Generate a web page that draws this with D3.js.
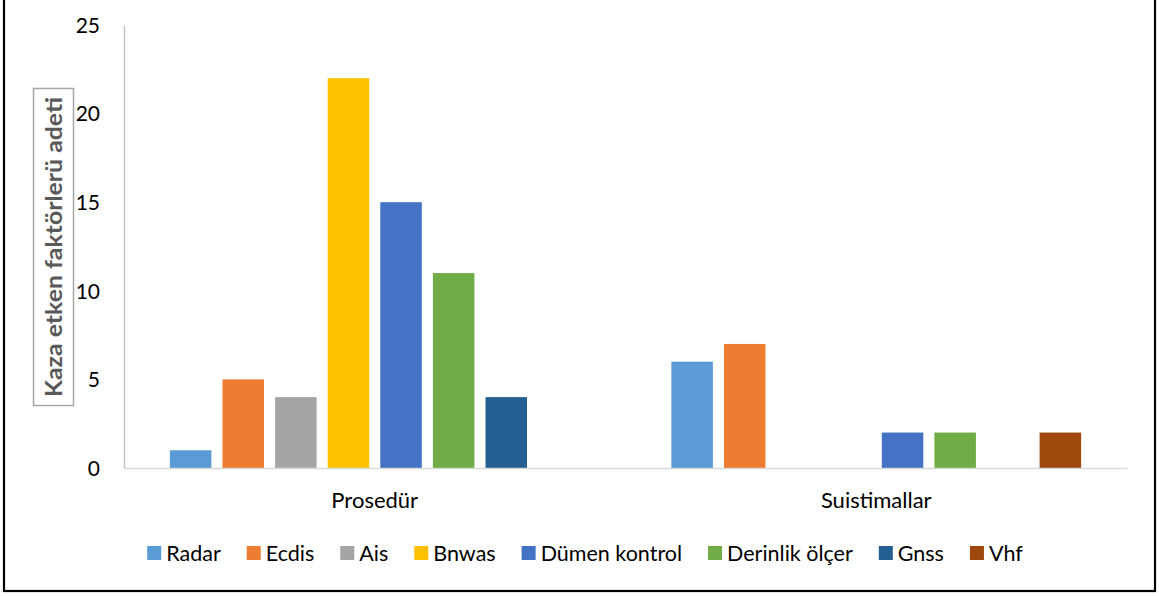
<!DOCTYPE html>
<html><head><meta charset="utf-8">
<script src="https://cdn.jsdelivr.net/npm/d3@7"></script>
<style>body{margin:0;background:#fff}svg{display:block}text{font-family:Lato,"Open Sans",sans-serif}</style>
</head><body>
<svg id="c" width="1159" height="596"></svg>
<script>
const categories = ["Prosedür", "Suistimallar"];
const series = ["Radar", "Ecdis", "Ais", "Bnwas", "Dümen kontrol", "Derinlik ölçer", "Gnss", "Vhf"];
const prosedurValues = [1, 5, 4, 22, 15, 11, 4, 0];
const suistimalValues = [6, 7, 0, 0, 2, 2, 0, 2];
const colors = ["#5B9BD5", "#ED7D31", "#A5A5A5", "#FFC000", "#4472C4", "#70AD47", "#255E91", "#9E480E"];
const yTicks = [0, 5, 10, 15, 20, 25];
const yTitle = "Kaza etken faktörlerü adeti";

(function () {
const valuesByCat = [prosedurValues, suistimalValues];
const svg = d3.select("#c");

// outer frame
svg.append("rect").attr("x", 4).attr("y", -5).attr("width", 1151).attr("height", 596)
  .attr("fill", "none").attr("stroke", "#000").attr("stroke-width", 2.2);

const pL = 124, pR = 1127, pT = 25, pB = 468;
const x0 = d3.scaleBand().domain(categories).range([pL, pR]).padding(0);
const x1 = d3.scaleBand().domain(series).range([0, x0.bandwidth()]).paddingInner(0.211).paddingOuter(0.872);
const y = d3.scaleLinear().domain([0, 25]).range([pB, pT]);

// bars
categories.forEach((c, ci) => {
  const g = svg.append("g").attr("transform", `translate(${x0(c)},0)`);
  series.forEach((s, si) => {
    const v = valuesByCat[ci][si];
    if (v <= 0) return;
    g.append("rect").attr("x", x1(s)).attr("width", x1.bandwidth())
      .attr("y", y(v)).attr("height", y(0) - y(v)).attr("fill", colors[si]);
  });
});

// y axis
const yAxis = d3.axisLeft(y).tickValues(yTicks).tickSize(0).tickPadding(24);
const ya = svg.append("g").attr("transform", `translate(${pL},0)`).call(yAxis);
ya.select(".domain").attr("stroke", "#bfbfbf").attr("stroke-width", 1.3);
ya.selectAll("text").attr("font-size", 21).attr("fill", "#000").attr("font-family", "Lato").attr("dy", "0.35em");

// x axis
const xAxis = d3.axisBottom(x0).tickSize(0).tickPadding(24);
const xa = svg.append("g").attr("transform", `translate(0,${pB})`).call(xAxis);
xa.select(".domain").attr("stroke", "#d9d9d9").attr("stroke-width", 1.5);
xa.selectAll("text").attr("font-size", 22).attr("fill", "#000").attr("font-family", "Lato");

// y title with box
svg.append("rect").attr("x", 33.5).attr("y", 88.5).attr("width", 40).attr("height", 317)
  .attr("fill", "#fff").attr("stroke", "#a6a6a6").attr("stroke-width", 1.5);
svg.append("text").attr("transform", "translate(54.5,247) rotate(-90)")
  .attr("text-anchor", "middle").attr("dy", "0.36em")
  .attr("font-size", 22).attr("font-weight", "bold").attr("fill", "#595959")
  .attr("textLength", 300).attr("lengthAdjust", "spacingAndGlyphs").text(yTitle);

// legend
const lg = svg.append("g");
let cx = 0;
series.forEach((s, i) => {
  const it = lg.append("g").attr("transform", `translate(${cx},0)`);
  it.append("rect").attr("x", 0).attr("y", -7).attr("width", 14).attr("height", 14).attr("fill", colors[i]);
  const t = it.append("text").attr("x", 19).attr("dy", "0.35em").attr("font-size", 21.5).attr("fill", "#000").text(s);
  cx += 19 + t.node().getComputedTextLength() + 26;
});
const totalW = cx - 26;
lg.attr("transform", `translate(${585 - totalW / 2},553)`);
})();
</script>
</body></html>
